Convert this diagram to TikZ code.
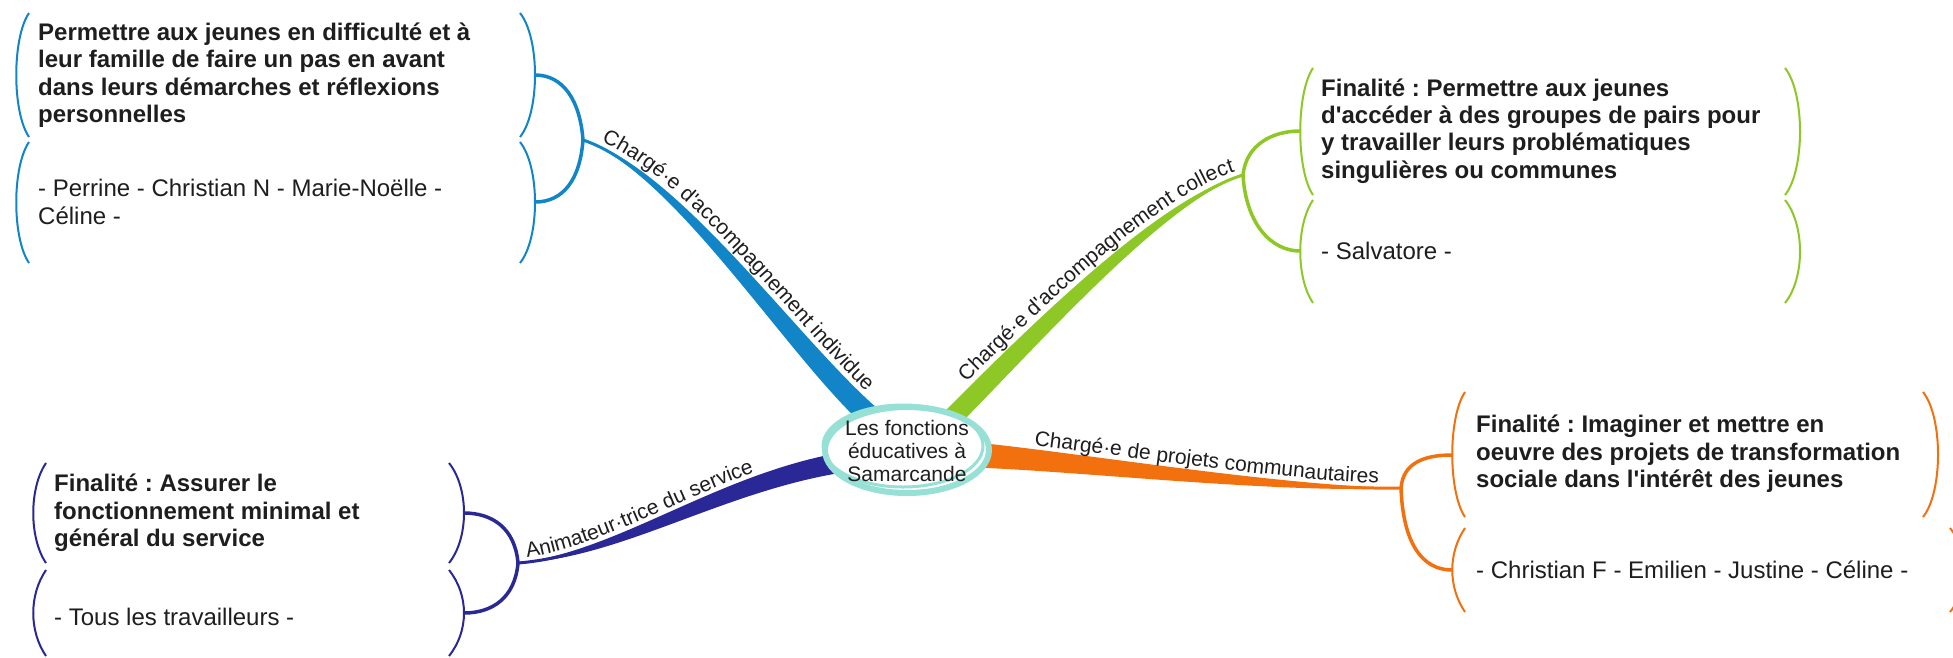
\documentclass[tikz,border=0pt]{standalone}
\usepackage{fontspec}
\setmainfont{Liberation Sans}[Ligatures = TeXOff]
\usetikzlibrary{calc, decorations.text}

\definecolor{indivblue}{RGB}{17,133,200}
\definecolor{collectgreen}{RGB}{141,200,38}
\definecolor{communorange}{RGB}{242,113,14}
\definecolor{animindigo}{RGB}{42,40,150}
\definecolor{hubteal}{RGB}{150,224,214}
\definecolor{inkgrey}{RGB}{30,30,30}

\newcommand{\branchfont}{\color{inkgrey}\fontsize{21}{23}\selectfont}
\frenchspacing

\begin{document}
\begin{tikzpicture}[x = 1pt, y = -1pt,
    aim/.style = {anchor = west, inner sep = 0pt, align = left, text = inkgrey,
      font = \fontsize{24}{27.4}\selectfont\bfseries},
    staff/.style = {aim, font = \fontsize{24}{27.4}\selectfont},
    paren/.style = {line width = 2pt},
    fork/.style = {line width = 3.5pt},
    hubring/.style = {draw = hubteal, line width = 6pt}]
\fill[white] (0, 0) rectangle (1953, 657);
\useasboundingbox (0, 0) rectangle (1953, 657);
\clip (0, 0) rectangle (1953, 657);

\coordinate (indivjoint) at (583, 140);
\coordinate (indivend) at (880, 425);
\coordinate (collectjoint) at (1243, 175);
\coordinate (collectend) at (945, 425);
\coordinate (communjoint) at (1401, 488);
\coordinate (communend) at (975, 455);
\coordinate (animjoint) at (518, 563);
\coordinate (animend) at (845, 462);

\coordinate (indivaimhook) at (535, 75);
\coordinate (indivstaffhook) at (535, 202);
\coordinate (collectaimhook) at (1300, 131);
\coordinate (collectstaffhook) at (1300, 251);
\coordinate (communaimhook) at (1452, 455);
\coordinate (communstaffhook) at (1452, 570);
\coordinate (animaimhook) at (464, 513);
\coordinate (animstaffhook) at (464, 613);

\fill[indivblue] (indivjoint) .. controls (681.2, 168.2) and (806.3, 352.2) .. ($(indivend)+(7, -8.5)$)
  -- ($(indivend)-(7, -8.5)$) .. controls (793.7, 367.8) and (678.8, 175.8) .. (indivjoint) -- cycle;
\draw[indivblue, line width = 3pt] (indivjoint) .. controls (680, 172) and (800, 360) .. (indivend);
\path[decorate, decoration = {text along path, raise = 5pt, text align = {left indent = 17pt},
  text = {|\branchfont|Chargé·e d'accompagnement individue}}]
  (indivjoint) .. controls (681.2, 168.2) and (806.3, 352.2) .. ($(indivend)+(7, -8.5)$);

\fill[collectgreen] ($(collectend)+(-7, -7)$) .. controls (1023, 333) and (1158.8, 196.2) .. (collectjoint)
  .. controls (1161.2, 203.8) and (1037, 347) .. ($(collectend)-(-7, -7)$) -- cycle;
\draw[collectgreen, line width = 3pt] (collectend) .. controls (1030, 340) and (1160, 200) .. (collectjoint);
\path[decorate, decoration = {text along path, raise = 5pt, text align = {left indent = 45pt},
  text = {|\branchfont|Chargé·e d'accompagnement collect}}]
  ($(collectend)+(-7, -7)$) .. controls (1023, 333) and (1158.8, 196.2) .. (collectjoint);

\fill[communorange] ($(communend)+(1, -12.5)$) .. controls (1080.6, 453) and (1280, 486) .. (communjoint)
  .. controls (1280, 494) and (1079.4, 471) .. ($(communend)-(1, -12.5)$) -- cycle;
\draw[communorange, line width = 3pt] (communend) .. controls (1080, 462) and (1280, 490) .. (communjoint);
\path[decorate, decoration = {text along path, raise = 4pt, text align = {left indent = 58pt},
  text = {|\branchfont|Chargé·e de projets communautaires}}]
  ($(communend)+(1, -12.5)$) .. controls (1080.6, 453) and (1280, 486) .. (communjoint);

\fill[animindigo] (animjoint) .. controls (619.7, 551) and (716.6, 473.7) .. ($(animend)+(-1.6, -9.9)$)
  -- ($(animend)-(-1.6, -9.9)$) .. controls (723.4, 490.3) and (620.3, 559) .. (animjoint) -- cycle;
\draw[animindigo, line width = 3pt] (animjoint) .. controls (620, 555) and (720, 482) .. (animend);
\path[decorate, decoration = {text along path, raise = 4pt, text align = {left indent = 10pt},
  text = {|\branchfont|Animateur·trice du service}}]
  (animjoint) .. controls (619.7, 551) and (716.6, 473.7) .. ($(animend)+(-1.6, -9.9)$);

\draw[fork, indivblue] (indivjoint) .. controls +(-3, -40) and +(28, 0) .. (indivaimhook);
\draw[fork, indivblue] (indivjoint) .. controls +(-3, 40) and +(28, 0) .. (indivstaffhook);
\draw[fork, collectgreen] (collectjoint) .. controls +(3, -30) and +(-28, 0) .. (collectaimhook);
\draw[fork, collectgreen] (collectjoint) .. controls +(3, 50) and +(-28, 0) .. (collectstaffhook);
\draw[fork, communorange] (communjoint) .. controls +(2, -25) and +(-28, 0) .. (communaimhook);
\draw[fork, communorange] (communjoint) .. controls +(2, 55) and +(-30, 0) .. (communstaffhook);
\draw[fork, animindigo] (animjoint) .. controls +(-3, -35) and +(28, 0) .. (animaimhook);
\draw[fork, animindigo] (animjoint) .. controls +(-3, 35) and +(28, 0) .. (animstaffhook);

\foreach \xl/\xr/\yt/\yb/\col in {16/535/13/137/indivblue, 16/535/142/263/indivblue,
    1300/1800/68/195/collectgreen, 1300/1800/200/303/collectgreen,
    1452/1938/392/517/communorange, 1452/1965/528/612/communorange,
    33/464/463/563/animindigo, 33/464/570/656/animindigo}
{
  \draw[paren, draw = \col] ({\xl+13}, \yt) .. controls ({\xl-4}, {\yt+25}) and ({\xl-4}, {\yb-25}) .. ({\xl+13}, \yb);
  \draw[paren, draw = \col] ({\xr-15}, \yt) .. controls ({\xr+5}, {\yt+25}) and ({\xr+5}, {\yb-25}) .. ({\xr-15}, \yb);
}

\node[aim] (indivaim) at (38, 75) {Permettre aux jeunes en difficulté et à\\leur famille de faire un pas en avant\\dans leurs démarches et réflexions\\personnelles};
\node[staff] (indivstaff) at (38, 202) {- Perrine - Christian N - Marie-Noëlle -\\Céline -};
\node[aim] (collectaim) at (1321, 131) {Finalité : Permettre aux jeunes\\d'accéder à des groupes de pairs pour\\y travailler leurs problématiques\\singulières ou communes};
\node[staff] (collectstaff) at (1321, 251) {- Salvatore -};
\node[aim] (communaim) at (1476, 454) {Finalité : Imaginer et mettre en\\oeuvre des projets de transformation\\sociale dans l'intérêt des jeunes};
\node[staff] (communstaff) at (1476, 570) {- Christian F - Emilien - Justine - Céline -};
\node[aim] (animaim) at (54, 513) {Finalité : Assurer le\\fonctionnement minimal et\\général du service};
\node[staff] (animstaff) at (54, 617) {- Tous les travailleurs -};

\draw[hubring, fill = white] (907, 450) ellipse (82 and 43);
\draw[hubring, line width = 3pt] (903, 446) ellipse (80 and 41);
\node[align = center, inner sep = 0pt, text = inkgrey, font = \fontsize{21}{23}\selectfont] (hub) at (907, 451) {Les fonctions\\éducatives à\\Samarcande};
\end{tikzpicture}
\end{document}
